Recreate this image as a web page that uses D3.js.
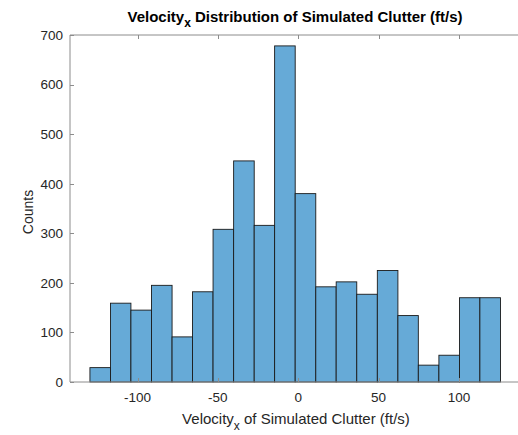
<!DOCTYPE html>
<html>
<head>
<meta charset="utf-8">
<script src="https://cdn.jsdelivr.net/npm/d3@7"></script>
<style>
  body { margin: 0; background: #fff; }
  svg { display: block; font-family: "Liberation Sans", Arial, sans-serif; }
</style>
</head>
<body>
<svg width="518" height="435"></svg>
<script>
// histogram bin edges (ft/s) and counts
var binEdges = [-129.6, -116.8, -104.1, -91.3, -78.5, -65.8, -53.0, -40.2, -27.4, -14.7,
                -1.9, 10.9, 23.6, 36.4, 49.2, 62.0, 74.7, 87.5, 100.3, 113.0, 125.8];
var counts = [29, 159, 145, 195, 91, 182, 308, 446, 316, 678,
              380, 192, 202, 177, 225, 134, 34, 54, 170, 170];
var xTicks = [-100, -50, 0, 50, 100];
var yTicks = [0, 100, 200, 300, 400, 500, 600, 700];

var svg = d3.select("svg");
var plotL = 70, plotT = 35, plotR = 526.5, plotB = 382;
var axisColor = "#8c8c8c", textColor = "#262626";

var x = d3.scaleLinear().domain([-142, 142]).range([plotL, plotR]);
var y = d3.scaleLinear().domain([0, 700]).range([plotB, plotT]);

var bins = counts.map(function(c, i) { return {x0: binEdges[i], x1: binEdges[i + 1], n: c}; });

// bars
svg.append("g").selectAll("rect")
  .data(bins)
  .enter().append("rect")
    .attr("x", function(d) { return x(d.x0); })
    .attr("y", function(d) { return y(d.n); })
    .attr("width", function(d) { return x(d.x1) - x(d.x0); })
    .attr("height", function(d) { return y(0) - y(d.n); })
    .attr("fill", "#66aad7")
    .attr("stroke", "#1a1a1a")
    .attr("stroke-width", 0.9);

// box
svg.append("path")
  .attr("d", "M" + plotR + "," + plotT + "H" + plotL + "V" + plotB + "H" + plotR)
  .attr("fill", "none")
  .attr("stroke", axisColor)
  .attr("stroke-width", 1);

// x ticks (inward, mirrored at top)
var xt = svg.append("g");
xTicks.forEach(function(t) {
  var px = Math.round(x(t)) + 0.5;
  xt.append("line").attr("x1", px).attr("x2", px).attr("y1", plotB).attr("y2", plotB - 4)
    .attr("stroke", axisColor);
  xt.append("line").attr("x1", px).attr("x2", px).attr("y1", plotT).attr("y2", plotT + 4)
    .attr("stroke", axisColor);
  xt.append("text").attr("x", x(t)).attr("y", 402)
    .attr("text-anchor", "middle").attr("font-size", 13.5).attr("fill", textColor)
    .text(t);
});

// y ticks
var yt = svg.append("g");
yTicks.forEach(function(t) {
  var py = Math.round(y(t)) + 0.5;
  yt.append("line").attr("x1", plotL).attr("x2", plotL + 4).attr("y1", py).attr("y2", py)
    .attr("stroke", axisColor);
  yt.append("text").attr("x", 63).attr("y", y(t) + 4.8)
    .attr("text-anchor", "end").attr("font-size", 13.5).attr("fill", textColor)
    .text(t);
});

// title
var title = svg.append("text").attr("x", 295).attr("y", 22)
  .attr("text-anchor", "middle").attr("font-size", 15).attr("font-weight", "bold").attr("fill", "#000");
title.append("tspan").text("Velocity");
title.append("tspan").attr("font-size", 12).attr("dy", 5).text("x");
title.append("tspan").attr("dy", -5).text(" Distribution of Simulated Clutter (ft/s)");

// x label
var xl = svg.append("text").attr("x", 296).attr("y", 424)
  .attr("text-anchor", "middle").attr("font-size", 15).attr("fill", textColor);
xl.append("tspan").text("Velocity");
xl.append("tspan").attr("font-size", 12).attr("dy", 6).text("x");
xl.append("tspan").attr("dy", -6).text(" of Simulated Clutter (ft/s)");

// y label
svg.append("text")
  .attr("transform", "translate(33,212) rotate(-90)")
  .attr("text-anchor", "middle").attr("font-size", 14).attr("fill", textColor)
  .text("Counts");
</script>
</body>
</html>
